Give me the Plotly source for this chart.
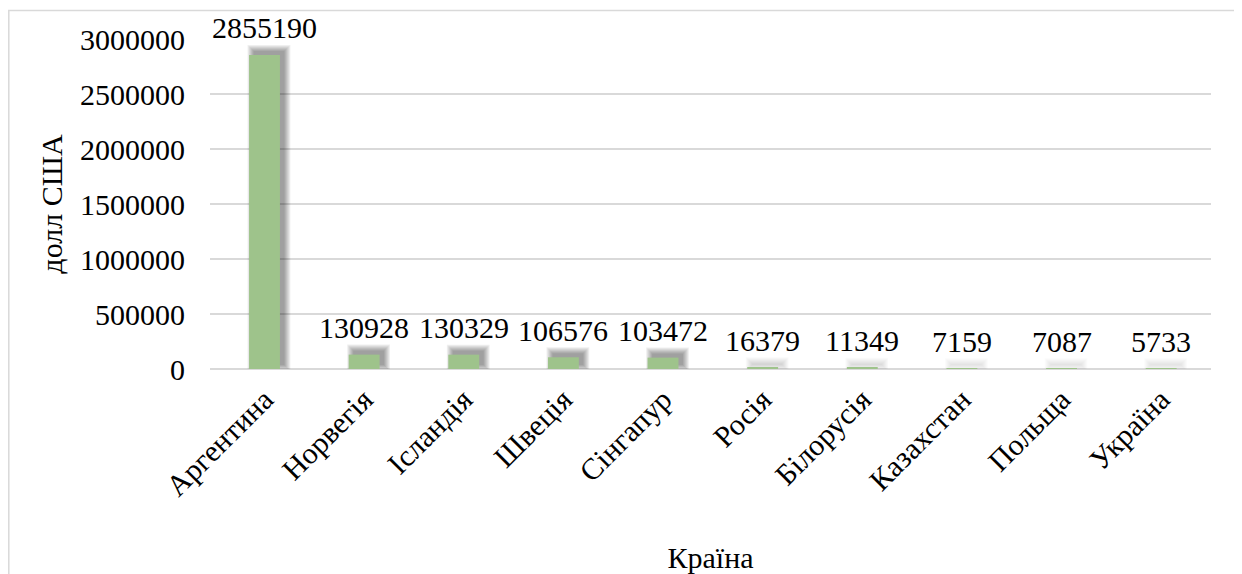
import plotly.graph_objects as go

countries = ["Аргентина", "Норвегія", "Ісландія", "Швеція", "Сінгапур",
             "Росія", "Білорусія", "Казахстан", "Польща", "Україна"]
values = [2855190, 130928, 130329, 106576, 103472, 16379, 11349, 7159, 7087, 5733]
y_ticks = [0, 500000, 1000000, 1500000, 2000000, 2500000, 3000000]

FONT = "Liberation Serif, Times New Roman, serif"
FS = 30
BAR_COLOR = "#9EC38B"
Y_MAX = 3000000
PLOT_H = 330          # px height of plot area
U = Y_MAX / PLOT_H    # data units per pixel
BAR_W = 0.31

fig = go.Figure()

# blurred drop shadow (layered translucent rectangles, offset up-right)
for s in [6, 5, 4, 3, 2, 1, 0]:
    alphas = []
    for v in values:
        hpx = v / U
        f = min(1.0, (hpx + 1) / 12) ** 0.7
        alphas.append(f"rgba(0,0,0,{0.062 * f:.3f})")
    w = BAR_W + 2 * s / 100
    fig.add_trace(go.Bar(
        x=countries,
        y=[v + 2 * s * U for v in values],
        base=[(4 - s) * U] * len(values),
        width=w,
        offset=-w / 2 + 0.045,
        marker=dict(color=alphas, line=dict(width=0)),
        hoverinfo="skip",
        showlegend=False,
    ))

fig.add_trace(go.Bar(
    x=countries,
    y=values,
    width=BAR_W,
    marker=dict(color=BAR_COLOR, line=dict(width=0)),
    showlegend=False,
))

for c, v in zip(countries, values):
    fig.add_annotation(x=c, y=v, text=str(v), showarrow=False,
                       yanchor="middle", yshift=27,
                       font=dict(family=FONT, size=FS, color="black"))

fig.add_shape(type="rect", xref="paper", yref="paper",
              x0=(0.8 - 202) / 1001, x1=(1232 - 202) / 1001,
              y0=(361 - 600) / PLOT_H, y1=(361 - 2.5) / PLOT_H,
              line=dict(color="#D9D9D9", width=1.5), layer="below")

fig.update_layout(
    width=1234, height=566,
    margin=dict(l=202, r=31, t=31, b=205, autoexpand=False),
    paper_bgcolor="white", plot_bgcolor="white",
    barmode="overlay",
    font=dict(family=FONT, size=FS, color="black"),
    xaxis=dict(
        type="category",
        tickangle=-45,
        showgrid=False,
        showline=False,
        ticks="",
        ticklabelstandoff=6,
        title=dict(text="Країна", standoff=46,
                   font=dict(family=FONT, size=FS, color="black")),
        tickfont=dict(family=FONT, size=FS, color="black"),
    ),
    yaxis=dict(
        range=[0, Y_MAX],
        tickvals=y_ticks,
        ticktext=[str(t) for t in y_ticks],
        showgrid=True,
        gridcolor="#D9D9D9",
        gridwidth=1.5,
        zeroline=True,
        zerolinecolor="#D9D9D9",
        zerolinewidth=1.5,
        showline=False,
        ticks="",
        ticklabelstandoff=24,
        title=dict(text="долл США", standoff=8,
                   font=dict(family=FONT, size=FS, color="black")),
        tickfont=dict(family=FONT, size=FS, color="black"),
    ),
)

fig.write_html("out.html")
